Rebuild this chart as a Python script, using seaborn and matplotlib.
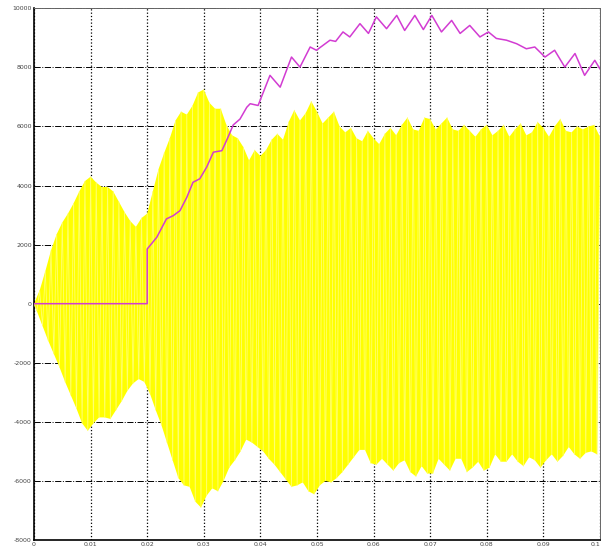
import numpy as np
import pandas as pd
import matplotlib
matplotlib.use("Agg")
import matplotlib.pyplot as plt
import seaborn as sns

# yellow signal: positive peaks at 0, 1, 2 ... 100 ms
upper_peaks = [0, 450, 1100, 1800, 2350, 2750, 3050, 3400, 3800, 4150,
               4300, 4100, 3950, 3950, 3800, 3450, 3100, 2800, 2600, 2900,
               3050, 3800, 4550, 5100, 5600, 6200, 6500, 6400, 6700, 7150,
               7250, 6800, 6600, 6600, 6050, 5700, 5600, 5300, 4850, 5200,
               5000, 5200, 5550, 5750, 5550, 6150, 6550, 6200, 6450, 6850,
               6500, 6100, 6300, 6500, 6000, 5800, 5950, 5600, 5500, 5850,
               5600, 5400, 5750, 5950, 5700, 6050, 6300, 5900, 5850, 6300,
               6250, 5900, 6100, 6300, 5900, 5850, 6050, 5850, 5650, 5900,
               6050, 5700, 5850, 6050, 5650, 5900, 6100, 5700, 5800, 6150,
               5950, 5650, 6000, 6250, 5850, 5800, 6000, 5900, 6000, 6050,
               5650]
# negative peaks at 0.5, 1.5 ... 99.5 ms
lower_peaks = [-250, -750, -1250, -1700, -2150, -2650, -3100, -3550, -4050, -4300,
               -4050, -3850, -3850, -3900, -3600, -3300, -2950, -2700, -2550, -2650,
               -3050, -3600, -4100, -4700, -5300, -5900, -6150, -6200, -6700, -6900,
               -6500, -6250, -6350, -6000, -5550, -5300, -5000, -4600, -4700, -4850,
               -5000, -5250, -5450, -5700, -5950, -6200, -6150, -6050, -6350, -6450,
               -6150, -6000, -6050, -5900, -5700, -5450, -5200, -4950, -4950, -5400,
               -5450, -5250, -5450, -5650, -5400, -5300, -5700, -5850, -5500, -5750,
               -5750, -5250, -5450, -5650, -5250, -5250, -5700, -5550, -5350, -5650,
               -5550, -5100, -5350, -5350, -5100, -5350, -5500, -5200, -5300, -5550,
               -5300, -5100, -5350, -5150, -4850, -5100, -5250, -5050, -5000, -5100]

# magenta trace
mag_t = [0.0, 0.0200, 0.0200, 0.0217, 0.0234, 0.0246, 0.0258, 0.0270, 0.0281, 0.0293,
         0.0305, 0.0317, 0.0332, 0.0342, 0.0352, 0.0364, 0.0376, 0.0382, 0.0396, 0.0417,
         0.0435, 0.0455, 0.0470, 0.0488, 0.0499, 0.0523, 0.0533, 0.0546, 0.0558, 0.0576,
         0.0591, 0.0605, 0.0623, 0.0641, 0.0655, 0.0673, 0.0688, 0.0703, 0.0720, 0.0738,
         0.0753, 0.0770, 0.0788, 0.0803, 0.0817, 0.0835, 0.0853, 0.0870, 0.0885, 0.0903,
         0.0920, 0.0938, 0.0956, 0.0973, 0.0991, 0.1000]
mag_v = [0, 0, 1850, 2250, 2870, 2980, 3150, 3600, 4110, 4230,
         4620, 5130, 5180, 5600, 6050, 6250, 6650, 6770, 6710, 7730,
         7330, 8350, 8010, 8690, 8580, 8920, 8880, 9200, 9030, 9480,
         9150, 9710, 9310, 9760, 9250, 9760, 9280, 9760, 9200, 9590,
         9150, 9420, 9030, 9200, 8980, 8920, 8800, 8630, 8690, 8350,
         8580, 8010, 8470, 7730, 8240, 7950]

x_ticks = [0, 0.01, 0.02, 0.03, 0.04, 0.05, 0.06, 0.07, 0.08, 0.09, 0.1]
x_labels = ["0", "0.01", "0.02", "0.03", "0.04", "0.05", "0.06", "0.07", "0.08", "0.09", "0.1"]
y_ticks = [-8000, -6000, -4000, -2000, 0, 2000, 4000, 6000, 8000, 10000]

t_up = np.arange(len(upper_peaks)) * 0.001
t_low = np.arange(len(lower_peaks)) * 0.001 + 0.0005

# interleave peaks -> oscillating trace
zz_t = np.empty(len(t_up) + len(t_low))
zz_v = np.empty(len(t_up) + len(t_low))
zz_t[0::2] = t_up
zz_t[1::2] = t_low
zz_v[0::2] = upper_peaks
zz_v[1::2] = lower_peaks
osc = pd.DataFrame({"t": zz_t, "v": zz_v})
mag = pd.DataFrame({"t": mag_t, "v": mag_v})

sns.set_theme(style="white")
fig = plt.figure(figsize=(6.02, 5.5), dpi=100)
ax = fig.add_axes([0.0565, 0.0182, 0.940, 0.9667])

ax.fill(np.r_[t_up, t_low[::-1]], np.r_[upper_peaks, lower_peaks[::-1]],
        color="#ffff00", lw=0, zorder=2)
sns.lineplot(data=osc, x="t", y="v", sort=False, estimator=None,
             color="#ffff70", lw=0.6, ax=ax, zorder=3)
sns.lineplot(data=mag, x="t", y="v", sort=False, estimator=None,
             color="#d23cd2", lw=1.1, ax=ax, zorder=4)

ax.set_xlim(0, 0.1)
ax.set_ylim(-8000, 10000)
ax.set_xticks(x_ticks)
ax.set_xticklabels(x_labels)
ax.set_yticks(y_ticks)
ax.set_yticklabels([str(v) for v in y_ticks])
ax.get_xticklabels()[-1].set_horizontalalignment("right")
ax.set_xlabel("")
ax.set_ylabel("")

ax.set_axisbelow(True)
ax.xaxis.grid(True, color="black", linestyle=":", lw=0.9)
ax.yaxis.grid(True, color="black", linestyle="-.", lw=0.7)
ax.tick_params(axis="both", direction="in", length=3, width=0.8,
               labelsize=4.5, labelcolor="#444444", pad=1.5)
for s in ["left", "bottom"]:
    ax.spines[s].set_color("black")
    ax.spines[s].set_linewidth(1.2)
for s in ["top", "right"]:
    ax.spines[s].set_color("#666666")
    ax.spines[s].set_linewidth(0.7)

fig.savefig("out.png", dpi=100)
